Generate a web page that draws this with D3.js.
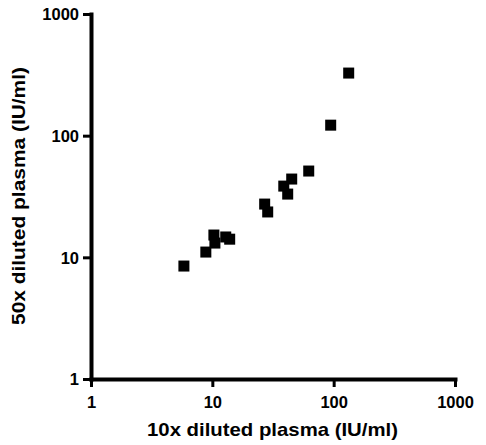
<!DOCTYPE html>
<html><head><meta charset="utf-8">
<script src="https://cdn.jsdelivr.net/npm/d3@7"></script>
<style>body{margin:0;background:#fff}svg{display:block}</style>
</head><body>
<script>
const xValues = [5.83, 8.84, 10.3, 10.5, 12.9, 13.9, 27.0, 28.6, 38.8, 41.8, 45.1, 62.3, 94.5, 133];
const yValues = [8.48, 11.05, 15.25, 13.1, 14.7, 14.1, 27.4, 23.6, 38.5, 33.1, 44.0, 51.2, 122, 327];
const tickValues = [1, 10, 100, 1000];
const xTitle = "10x diluted plasma (IU/ml)";
const yTitle = "50x diluted plasma (IU/ml)";

const W = 486, H = 445;
const svg = d3.select("body").append("svg").attr("width", W).attr("height", H);
const x = d3.scaleLog().domain([1, 1000]).range([91, 455]);
const y = d3.scaleLog().domain([1, 1000]).range([379, 14]);
const font = "Arial, 'Liberation Sans', sans-serif";

const xa = svg.append("g").attr("transform", "translate(0,379)")
  .call(d3.axisBottom(x).tickValues(tickValues).tickFormat(d3.format("d")).tickSize(8).tickSizeOuter(0));
const ya = svg.append("g").attr("transform", "translate(91,0)")
  .call(d3.axisLeft(y).tickValues(tickValues).tickFormat(d3.format("d")).tickSize(8).tickSizeOuter(0));
[xa, ya].forEach(g => {
  g.select(".domain").attr("stroke", "#000").attr("stroke-width", 4).attr("stroke-linecap", "square");
  g.selectAll(".tick line").attr("stroke", "#000").attr("stroke-width", 3);
  g.selectAll("text").attr("fill", "#000").style("font-family", font).style("font-weight", "bold").style("font-size", "16.5px");
});
xa.selectAll("text").attr("dy", "0.71em").attr("y", 17);
ya.selectAll("text").attr("x", -12).attr("dy", "0.35em");

svg.append("g").selectAll("rect").data(xValues.map((v, i) => [v, yValues[i]])).join("rect")
  .attr("x", d => x(d[0]) - 5.5).attr("y", d => y(d[1]) - 5.5)
  .attr("width", 11).attr("height", 11).attr("fill", "#000");

svg.append("text").attr("x", 272.5).attr("y", 436).attr("text-anchor", "middle")
  .attr("textLength", 251).attr("lengthAdjust", "spacingAndGlyphs")
  .style("font-family", font).style("font-weight", "bold").style("font-size", "19px").text(xTitle);
svg.append("text").attr("transform", "translate(25,196) rotate(-90)").attr("text-anchor", "middle")
  .attr("textLength", 258).attr("lengthAdjust", "spacingAndGlyphs")
  .style("font-family", font).style("font-weight", "bold").style("font-size", "19px").text(yTitle);
</script>
</body></html>
